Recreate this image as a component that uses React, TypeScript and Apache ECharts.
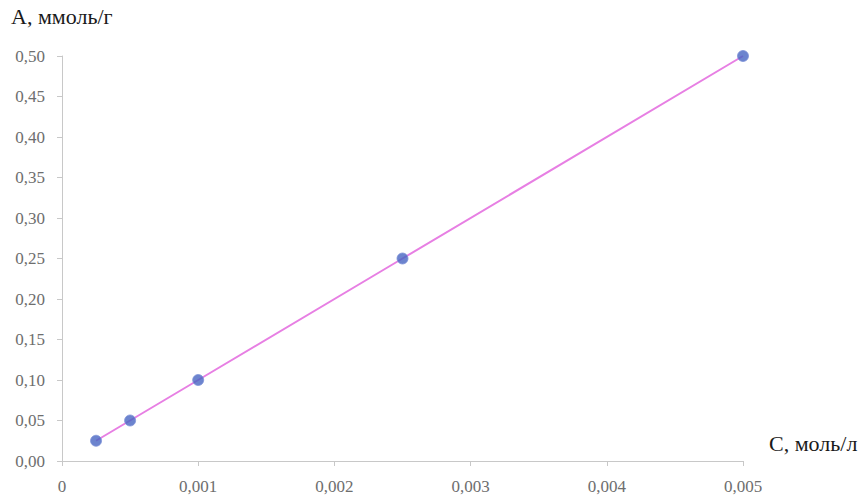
import React, { useEffect, useRef } from "react";
import * as echarts from "echarts";

// Concentration C (моль/л) and adsorption A (ммоль/г)
const concentration = [0.00025, 0.0005, 0.001, 0.0025, 0.005];
const adsorption = [0.025, 0.05, 0.1, 0.25, 0.5];

const xTitle = "C, моль/л";
const yTitle = "A, ммоль/г";

const font = "'Liberation Serif', 'Times New Roman', serif";

export default function App() {
  const ref = useRef<HTMLDivElement>(null);

  useEffect(() => {
    if (!ref.current) return;
    const chart = echarts.init(ref.current, null, { renderer: "svg" });
    const points = concentration.map((c, i) => [c, adsorption[i]]);
    chart.setOption({
      animation: false,
      backgroundColor: "#ffffff",
      grid: { left: 62, right: 125, top: 56, bottom: 36, containLabel: false },
      graphic: [
        {
          type: "text",
          left: 11,
          top: 5,
          style: { text: yTitle, font: `22px ${font}`, fill: "#1a1a1a" },
        },
        {
          type: "text",
          left: 769,
          top: 432,
          style: { text: xTitle, font: `22px ${font}`, fill: "#1a1a1a" },
        },
      ],
      xAxis: {
        type: "value",
        min: 0,
        max: 0.005,
        interval: 0.001,
        splitLine: { show: false },
        axisLine: { show: true, lineStyle: { color: "#c8c8c8", width: 1 } },
        axisTick: { show: true, length: 5, lineStyle: { color: "#c8c8c8" } },
        axisLabel: {
          margin: 17,
          color: "#6e6e6e",
          fontFamily: font,
          fontSize: 17,
          formatter: (v: number) => (v === 0 ? "0" : v.toFixed(3).replace(".", ",")),
        },
      },
      yAxis: {
        type: "value",
        min: 0,
        max: 0.5,
        interval: 0.05,
        splitLine: { show: false },
        axisLine: { show: true, lineStyle: { color: "#c8c8c8", width: 1 } },
        axisTick: { show: true, length: 5, lineStyle: { color: "#c8c8c8" } },
        axisLabel: {
          margin: 17,
          color: "#6e6e6e",
          fontFamily: font,
          fontSize: 17,
          formatter: (v: number) => v.toFixed(2).replace(".", ","),
        },
      },
      series: [
        {
          type: "line",
          data: points,
          showSymbol: false,
          symbol: "none",
          lineStyle: { color: "#e77fe3", width: 2 },
          z: 2,
        },
        {
          type: "scatter",
          data: points,
          symbol: "circle",
          symbolSize: 11,
          itemStyle: { color: "#4765c2", borderColor: "#7f93d8", borderWidth: 1 },
          z: 3,
        },
      ],
    });
    return () => chart.dispose();
  }, []);

  return (
    <div
      ref={ref}
      style={{ position: "fixed", left: 0, top: 0, width: 868, height: 497 }}
    />
  );
}
